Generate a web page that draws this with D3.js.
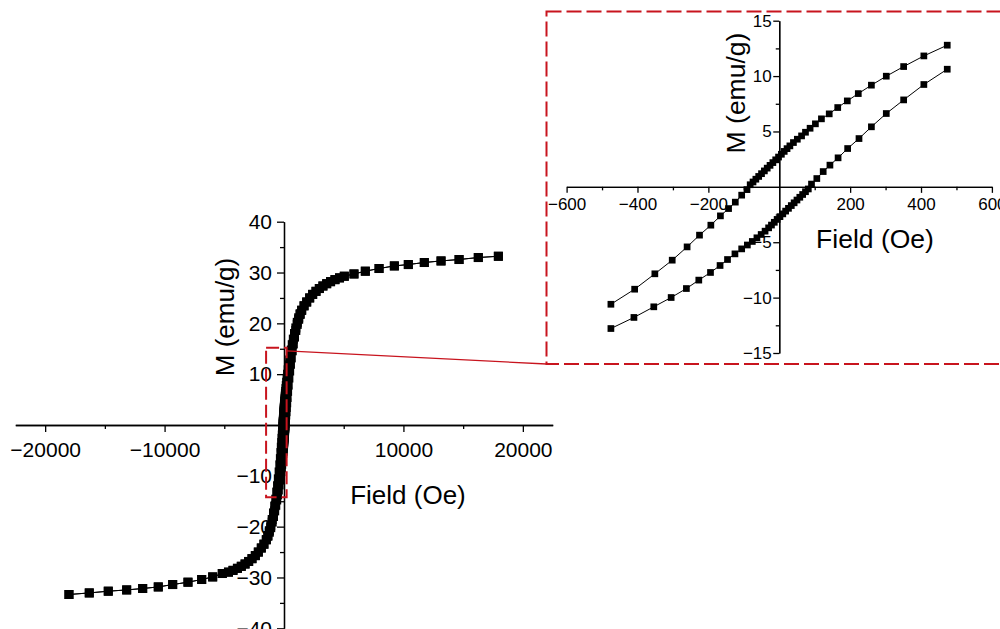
<!DOCTYPE html>
<html><head><meta charset="utf-8">
<script src="https://cdn.jsdelivr.net/npm/d3@7"></script>
<style>
body{margin:0;background:#fff}
svg{display:block}
text{font-family:"Liberation Sans",Arial,sans-serif;fill:#000}
</style></head>
<body><svg id="chart" width="1000" height="629"></svg>
<script>
// ---- data (Field in Oe, M in emu/g) ----
const descField = [17950,16270,14660,13150,11750,10410,9240,7960,6810,5860,5050,4650,4270,3900,3575,3260,2960,2680,2400,2150,1900,1680,1480,1350,1230,1110,990,880,780,690,610,540,474,408,351,302,260,223,192,165,141,119,102,87,74,63,51,40,30,22,14,6,-2,-10,-18,-26,-34,-42,-50,-58,-66,-74,-82,-91,-106,-124,-143,-166,-193,-225,-260,-302,-351,-408,-475,-540,-610,-690,-780,-880,-990,-1110,-1230,-1350,-1480,-1680,-1900,-2150,-2400,-2680,-2960,-3260,-3575,-3900,-4270,-4650,-5167,-5972,-6893,-8040,-9322,-10528,-11834,-13174,-14715,-16306,-18007];
const descMoment = [33.2,32.95,32.56,32.28,31.97,31.57,31.3,30.79,30.26,29.72,29.27,28.95,28.6,28.2,27.8,27.35,26.85,26.3,25.7,25.0,24.2,23.45,22.6,21.9,21.1,20.2,19.1,18.0,16.9,15.8,14.75,13.75,12.79,11.82,10.86,9.99,9.18,8.42,7.76,7.16,6.59,6.14,5.69,5.29,4.93,4.6,4.3,4.0,3.7,3.45,3.2,2.94,2.69,2.44,2.19,1.94,1.69,1.44,1.19,0.94,0.69,0.44,0.19,-0.25,-0.75,-1.38,-1.96,-2.62,-3.46,-4.36,-5.42,-6.62,-7.85,-9.24,-10.6,-11.95,-13.2,-14.6,-15.95,-17.3,-18.6,-19.8,-20.8,-21.75,-22.55,-23.45,-24.2,-25.0,-25.7,-26.3,-26.85,-27.35,-27.8,-28.2,-28.6,-28.95,-29.22,-29.89,-30.4,-30.93,-31.39,-31.86,-32.17,-32.45,-32.7,-33.04,-33.35];
const ascField = [-18007,-16306,-14715,-13174,-11834,-10528,-9322,-8040,-6893,-5972,-5167,-4650,-4270,-3900,-3575,-3260,-2960,-2680,-2400,-2150,-1900,-1680,-1480,-1350,-1230,-1110,-990,-880,-780,-690,-610,-540,-475,-410,-354,-305,-262,-227,-194,-167,-146,-125,-106,-90,-76,-63,-51,-40,-30,-22,-14,-6,2,10,18,26,34,42,50,58,66,74,82,91,106,124,143,166,193,225,260,302,351,408,474,540,610,690,780,880,990,1110,1230,1350,1480,1680,1900,2150,2400,2680,2960,3260,3575,3900,4270,4650,5050,5860,6810,7960,9240,10410,11750,13150,14660,16270,17950];
const ascMoment = [-33.35,-33.04,-32.7,-32.45,-32.17,-31.86,-31.39,-30.93,-30.4,-29.89,-29.22,-28.95,-28.6,-28.2,-27.8,-27.35,-26.85,-26.3,-25.7,-25.0,-24.2,-23.45,-22.6,-21.9,-21.1,-20.2,-19.1,-18.0,-16.9,-15.8,-14.75,-13.75,-12.79,-11.79,-10.83,-9.99,-9.18,-8.42,-7.73,-7.1,-6.56,-6.05,-5.6,-5.25,-4.93,-4.6,-4.3,-4.0,-3.7,-3.45,-3.2,-2.94,-2.69,-2.44,-2.19,-1.94,-1.69,-1.44,-1.19,-0.94,-0.69,-0.44,-0.19,0.25,0.75,1.38,1.96,2.62,3.46,4.36,5.42,6.62,7.85,9.24,10.62,11.95,13.2,14.6,15.95,17.3,18.6,19.8,20.8,21.75,22.55,23.45,24.2,25.0,25.7,26.3,26.85,27.35,27.8,28.2,28.6,28.95,29.27,29.72,30.26,30.79,31.3,31.57,31.97,32.28,32.56,32.95,33.2];

const mainXTicks = [-20000,-10000,10000,20000];
const mainXMinor = [-15000,-5000,5000,15000];
const mainYTicks = [40,30,20,10,-10,-20,-30,-40];
const mainYMinor = [35,25,15,5,-5,-15,-25,-35];
const insetXTicks = [-600,-400,-200,200,400,600];
const insetXMinor = [-500,-300,-100,100,300,500];
const insetYTicks = [15,10,5,-5,-10,-15];
const insetYMinor = [12.5,7.5,2.5,-2.5,-7.5,-12.5];
const xTitle = "Field (Oe)";
const yTitle = "M (emu/g)";
// zoomed region marked on main plot (data units) and inset field window
const zoomBox = {h0:-1500, h1:220, m0:-14.2, m1:15.2};
const connectFrom = {h:220, m:14.6};
const insetLimit = 480;

const fmt = v => (v < 0 ? "\u2212" + Math.abs(v) : String(v));
const RED = "#c8141e";

const svg = d3.select("#chart");
const descPts = descField.map((h,i)=>({h, m:descMoment[i]}));
const ascPts = ascField.map((h,i)=>({h, m:ascMoment[i]}));

// ---- main plot ----
const x = d3.scaleLinear().domain([-22500,22500]).range([15.3,552.7]);
const y = d3.scaleLinear().domain([-40,40]).range([628.3,221.7]);
const main = svg.append("g");

function styleAxis(g){
  g.selectAll("path,line").attr("stroke","#000").attr("stroke-width",1.3);
}
main.append("g").attr("transform",`translate(0,${y(0)})`)
  .call(d3.axisBottom(x).tickValues(mainXMinor).tickSize(4).tickSizeOuter(0).tickFormat(""))
  .call(styleAxis);
main.append("g").attr("transform",`translate(0,${y(0)})`)
  .call(d3.axisBottom(x).tickValues(mainXTicks).tickSize(7).tickSizeOuter(0).tickPadding(10).tickFormat(fmt))
  .call(styleAxis)
  .call(g=>g.selectAll("text").attr("font-size",21).attr("font-family","Liberation Sans, Arial, sans-serif").attr("fill","#000"));
main.append("g").attr("transform",`translate(${x(0)},0)`)
  .call(d3.axisLeft(y).tickValues(mainYMinor).tickSize(4).tickSizeOuter(0).tickFormat(""))
  .call(styleAxis);
main.append("g").attr("transform",`translate(${x(0)},0)`)
  .call(d3.axisLeft(y).tickValues(mainYTicks).tickSize(7).tickSizeOuter(0).tickPadding(5).tickFormat(fmt))
  .call(styleAxis)
  .call(g=>g.selectAll("text").attr("font-size",21).attr("font-family","Liberation Sans, Arial, sans-serif").attr("fill","#000"));

main.append("text").attr("x",408).attr("y",504).attr("text-anchor","middle").attr("font-size",26).text(xTitle);
main.append("text").attr("transform","translate(234,317) rotate(-90)").attr("text-anchor","middle").attr("font-size",26).text(yTitle);

const lineMain = d3.line().x(d=>x(d.h)).y(d=>y(d.m));
[descPts, ascPts].forEach(pts=>{
  main.append("path").datum(pts).attr("d",lineMain).attr("fill","none").attr("stroke","#000").attr("stroke-width",1);
  main.append("g").selectAll("rect").data(pts).join("rect")
    .attr("x",d=>x(d.h)-4.5).attr("y",d=>y(d.m)-4.5).attr("width",9).attr("height",9).attr("fill","#000");
});

// ---- inset ----
const xi = d3.scaleLinear().domain([-600,600]).range([566.6,991.9]);
const yi = d3.scaleLinear().domain([-15,15]).range([353,20.7]);
const inset = svg.append("g");
inset.append("g").attr("transform",`translate(0,${yi(0)})`)
  .call(d3.axisBottom(xi).tickValues(insetXMinor).tickSize(3.5).tickSizeOuter(0).tickFormat(""))
  .call(styleAxis);
inset.append("g").attr("transform",`translate(0,${yi(0)})`)
  .call(d3.axisBottom(xi).tickValues(insetXTicks).tickSize(6).tickSizeOuter(0).tickPadding(5.5).tickFormat(fmt))
  .call(styleAxis)
  .call(g=>g.selectAll("text").attr("font-size",17).attr("font-family","Liberation Sans, Arial, sans-serif").attr("fill","#000"));
inset.append("g").attr("transform",`translate(${xi(0)},0)`)
  .call(d3.axisLeft(yi).tickValues(insetYMinor).tickSize(3.5).tickSizeOuter(0).tickFormat(""))
  .call(styleAxis);
inset.append("g").attr("transform",`translate(${xi(0)},0)`)
  .call(d3.axisLeft(yi).tickValues(insetYTicks).tickSize(6).tickSizeOuter(0).tickPadding(1.5).tickFormat(fmt))
  .call(styleAxis)
  .call(g=>g.selectAll("text").attr("font-size",17).attr("font-family","Liberation Sans, Arial, sans-serif").attr("fill","#000"));

inset.append("text").attr("x",875).attr("y",248).attr("text-anchor","middle").attr("font-size",26.5).text(xTitle);
inset.append("text").attr("transform","translate(745,93) rotate(-90)").attr("text-anchor","middle").attr("font-size",26.5).text(yTitle);

const lineInset = d3.line().x(d=>xi(d.h)).y(d=>yi(d.m));
[descPts, ascPts].forEach(pts=>{
  const sub = pts.filter(d=>Math.abs(d.h)<=insetLimit);
  inset.append("path").datum(sub).attr("d",lineInset).attr("fill","none").attr("stroke","#000").attr("stroke-width",1);
  inset.append("g").selectAll("rect").data(sub).join("rect")
    .attr("x",d=>xi(d.h)-3.35).attr("y",d=>yi(d.m)-3.35).attr("width",6.7).attr("height",6.7).attr("fill","#000");
});

// ---- red annotations ----
svg.append("rect")
  .attr("x",x(zoomBox.h0)).attr("y",y(zoomBox.m1))
  .attr("width",x(zoomBox.h1)-x(zoomBox.h0)).attr("height",y(zoomBox.m0)-y(zoomBox.m1))
  .attr("fill","none").attr("stroke",RED).attr("stroke-width",2).attr("stroke-dasharray","13,5");
svg.append("rect").attr("x",546.5).attr("y",11.5).attr("width",460).attr("height",352.5)
  .attr("fill","none").attr("stroke",RED).attr("stroke-width",2).attr("stroke-dasharray","15,5");
svg.append("line").attr("x1",x(connectFrom.h)).attr("y1",y(connectFrom.m)).attr("x2",546.5).attr("y2",364)
  .attr("stroke",RED).attr("stroke-width",1.3);
</script></body></html>
